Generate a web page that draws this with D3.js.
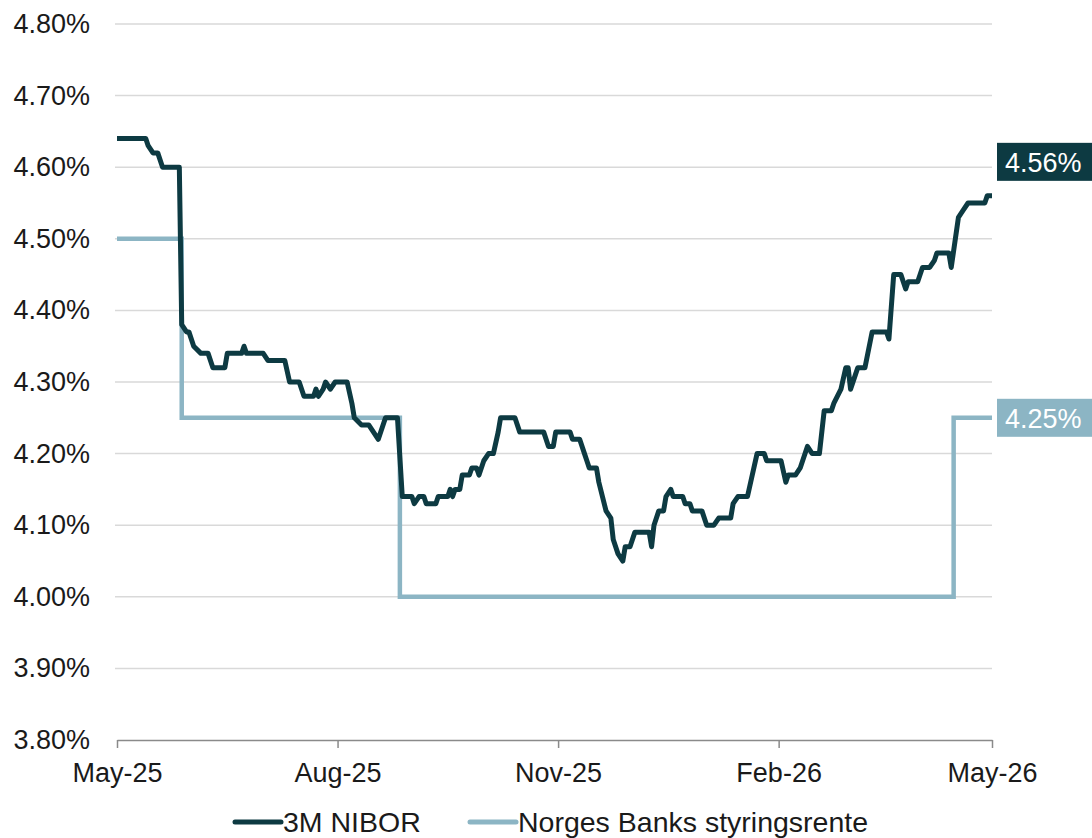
<!DOCTYPE html>
<html>
<head>
<meta charset="utf-8">
<script src="https://cdn.jsdelivr.net/npm/d3@7"></script>
<style>
  html, body { margin: 0; padding: 0; background: #fff; }
  svg text { font-family: "Liberation Sans", Arial, sans-serif; }
</style>
</head>
<body>
<div id="chart"></div>
<script>
// 3M NIBOR (daily-ish readings)
var niborDates = [
  "2025-05-01","2025-05-13","2025-05-14","2025-05-16","2025-05-18","2025-05-20","2025-05-27","2025-05-28",
  "2025-05-30","2025-05-31","2025-06-02","2025-06-05","2025-06-08","2025-06-10","2025-06-15","2025-06-16",
  "2025-06-22","2025-06-23","2025-06-24","2025-07-01","2025-07-03","2025-07-10","2025-07-12","2025-07-16",
  "2025-07-18","2025-07-22","2025-07-23","2025-07-24","2025-07-26","2025-07-27","2025-07-29","2025-07-31",
  "2025-08-05","2025-08-07","2025-08-08","2025-08-11","2025-08-14","2025-08-16","2025-08-18","2025-08-21",
  "2025-08-26","2025-08-28","2025-09-01","2025-09-02","2025-09-04","2025-09-06","2025-09-07","2025-09-11",
  "2025-09-12","2025-09-16","2025-09-17","2025-09-18","2025-09-19","2025-09-21","2025-09-22","2025-09-25",
  "2025-09-26","2025-09-28","2025-09-29","2025-10-01","2025-10-03","2025-10-05","2025-10-07","2025-10-08",
  "2025-10-14","2025-10-16","2025-10-26","2025-10-28","2025-10-30","2025-10-31","2025-11-06","2025-11-07",
  "2025-11-10","2025-11-12","2025-11-13","2025-11-14","2025-11-17","2025-11-18","2025-11-21","2025-11-23",
  "2025-11-24","2025-11-26","2025-11-28","2025-11-29","2025-12-01","2025-12-03","2025-12-09","2025-12-10",
  "2025-12-11","2025-12-13","2025-12-15","2025-12-16","2025-12-18","2025-12-19","2025-12-20","2025-12-23",
  "2025-12-24","2025-12-26","2025-12-27","2025-12-31","2026-01-02","2026-01-05","2026-01-07","2026-01-12",
  "2026-01-13","2026-01-15","2026-01-19","2026-01-21","2026-01-23","2026-01-26","2026-01-27","2026-02-02",
  "2026-02-04","2026-02-05","2026-02-08","2026-02-10","2026-02-13","2026-02-15","2026-02-18","2026-02-20",
  "2026-02-23","2026-02-24","2026-02-27","2026-03-01","2026-03-02","2026-03-03","2026-03-05","2026-03-06",
  "2026-03-09","2026-03-12","2026-03-18","2026-03-19","2026-03-21","2026-03-24","2026-03-26","2026-03-27",
  "2026-03-31","2026-04-02","2026-04-05","2026-04-07","2026-04-08","2026-04-13","2026-04-14","2026-04-17",
  "2026-04-19","2026-04-21","2026-04-28","2026-04-29","2026-05-01"
];
var niborValues = [
  4.64,4.64,4.63,4.62,4.62,4.60,4.60,4.38,
  4.37,4.37,4.35,4.34,4.34,4.32,4.32,4.34,
  4.34,4.35,4.34,4.34,4.33,4.33,4.30,4.30,
  4.28,4.28,4.29,4.28,4.29,4.30,4.29,4.30,
  4.30,4.27,4.25,4.24,4.24,4.23,4.22,4.25,
  4.25,4.14,4.14,4.13,4.14,4.14,4.13,4.13,
  4.14,4.14,4.15,4.14,4.15,4.15,4.17,4.17,
  4.18,4.18,4.17,4.19,4.20,4.20,4.23,4.25,
  4.25,4.23,4.23,4.21,4.21,4.23,4.23,4.22,
  4.22,4.20,4.19,4.18,4.18,4.16,4.12,4.11,
  4.08,4.06,4.05,4.07,4.07,4.09,4.09,4.07,
  4.10,4.12,4.12,4.14,4.15,4.14,4.14,4.14,
  4.13,4.13,4.12,4.12,4.10,4.10,4.11,4.11,
  4.13,4.14,4.14,4.17,4.20,4.20,4.19,4.19,
  4.16,4.17,4.17,4.18,4.21,4.20,4.20,4.26,
  4.26,4.27,4.29,4.32,4.32,4.29,4.31,4.32,
  4.32,4.37,4.37,4.36,4.45,4.45,4.43,4.44,
  4.44,4.46,4.46,4.47,4.48,4.48,4.46,4.53,
  4.54,4.55,4.55,4.56,4.56
];

// Norges Banks styringsrente (step changes)
var policyDates = ["2025-05-01","2025-05-28","2025-08-27","2026-04-15","2026-05-01"];
var policyValues = [4.50, 4.25, 4.00, 4.25, 4.25];

var yTicks = [3.80, 3.90, 4.00, 4.10, 4.20, 4.30, 4.40, 4.50, 4.60, 4.70, 4.80];
var xTickDates = ["2025-05-01","2025-08-01","2025-11-01","2026-02-01","2026-05-01"];
var xTickLabels = ["May-25","Aug-25","Nov-25","Feb-26","May-26"];
var seriesNames = ["3M NIBOR", "Norges Banks styringsrente"];
var seriesColors = ["#0d3a42", "#8cb5c4"];

var parseDate = d3.timeParse("%Y-%m-%d");
var nibor = niborDates.map(function(d, i) { return {date: parseDate(d), value: niborValues[i]}; });
var policy = policyDates.map(function(d, i) { return {date: parseDate(d), value: policyValues[i]}; });

var w = 1092, h = 838;
var margin = {left: 117, right: 992, top: 24, bottom: 740};

var svg = d3.select("#chart").append("svg")
  .attr("width", w)
  .attr("height", h);

var xScale = d3.scaleTime()
  .domain([parseDate(xTickDates[0]), parseDate(xTickDates[xTickDates.length - 1])])
  .range([margin.left, margin.right]);

var yScale = d3.scaleLinear()
  .domain([3.80, 4.80])
  .range([margin.bottom, margin.top]);

// gridlines
svg.append("g")
  .selectAll("line")
  .data(yTicks.slice(1))
  .enter().append("line")
  .attr("x1", margin.left - 2)
  .attr("x2", margin.right)
  .attr("y1", function(d) { return yScale(d); })
  .attr("y2", function(d) { return yScale(d); })
  .attr("stroke", "#d9d9d9")
  .attr("stroke-width", 1.5);

// y labels
svg.append("g")
  .selectAll("text")
  .data(yTicks)
  .enter().append("text")
  .attr("x", 90)
  .attr("y", function(d) { return yScale(d) + 9; })
  .attr("text-anchor", "end")
  .attr("font-size", 27)
  .attr("fill", "#1a1a1a")
  .text(function(d) { return d.toFixed(2) + "%"; });

// x axis
var xAxis = d3.axisBottom(xScale)
  .tickValues(xTickDates.map(parseDate))
  .tickFormat(function(d, i) { return xTickLabels[i]; })
  .tickSize(8)
  .tickSizeOuter(0);

var gx = svg.append("g")
  .attr("transform", "translate(0," + margin.bottom + ")")
  .call(xAxis);
gx.select(".domain").attr("stroke", "#8a8a8a").attr("stroke-width", 1.5);
gx.selectAll(".tick line").attr("stroke", "#8a8a8a").attr("stroke-width", 1.5);
gx.selectAll(".tick text")
  .attr("font-family", "Liberation Sans, Arial, sans-serif")
  .attr("font-size", 27)
  .attr("fill", "#1a1a1a")
  .attr("dy", "0")
  .attr("y", 42);

// lines
var lineGen = d3.line()
  .x(function(d) { return xScale(d.date); })
  .y(function(d) { return yScale(d.value); });

var stepGen = d3.line()
  .curve(d3.curveStepAfter)
  .x(function(d) { return xScale(d.date); })
  .y(function(d) { return yScale(d.value); });

svg.append("path")
  .attr("d", stepGen(policy))
  .attr("fill", "none")
  .attr("stroke", seriesColors[1])
  .attr("stroke-width", 4.5);

svg.append("path")
  .attr("d", lineGen(nibor))
  .attr("fill", "none")
  .attr("stroke", seriesColors[0])
  .attr("stroke-width", 5)
  .attr("stroke-linejoin", "round");

// end labels
var endLabels = [
  {value: niborValues[niborValues.length - 1], color: seriesColors[0], shift: -34},
  {value: policyValues[policyValues.length - 1], color: seriesColors[1], shift: 0}
];

var lab = svg.append("g").selectAll("g")
  .data(endLabels)
  .enter().append("g")
  .attr("transform", function(d) { return "translate(997," + (yScale(d.value) + d.shift) + ")"; });

lab.append("rect")
  .attr("x", 0)
  .attr("y", -19)
  .attr("width", 95)
  .attr("height", 38)
  .attr("fill", function(d) { return d.color; });

lab.append("text")
  .attr("x", 8)
  .attr("y", 10)
  .attr("font-size", 27)
  .attr("fill", "#fff")
  .text(function(d) { return d.value.toFixed(2) + "%"; });

// legend
var legendX = [233, 468];
var leg = svg.append("g").selectAll("g")
  .data(seriesNames)
  .enter().append("g")
  .attr("transform", function(d, i) { return "translate(" + legendX[i] + ",822)"; });

leg.append("line")
  .attr("x1", 2)
  .attr("x2", 48)
  .attr("stroke", function(d, i) { return seriesColors[i]; })
  .attr("stroke-width", 5)
  .attr("stroke-linecap", "round");

leg.append("text")
  .attr("x", 50)
  .attr("y", 10)
  .attr("font-size", 28.5)
  .attr("fill", "#1a1a1a")
  .text(function(d) { return d; });
</script>
</body>
</html>
